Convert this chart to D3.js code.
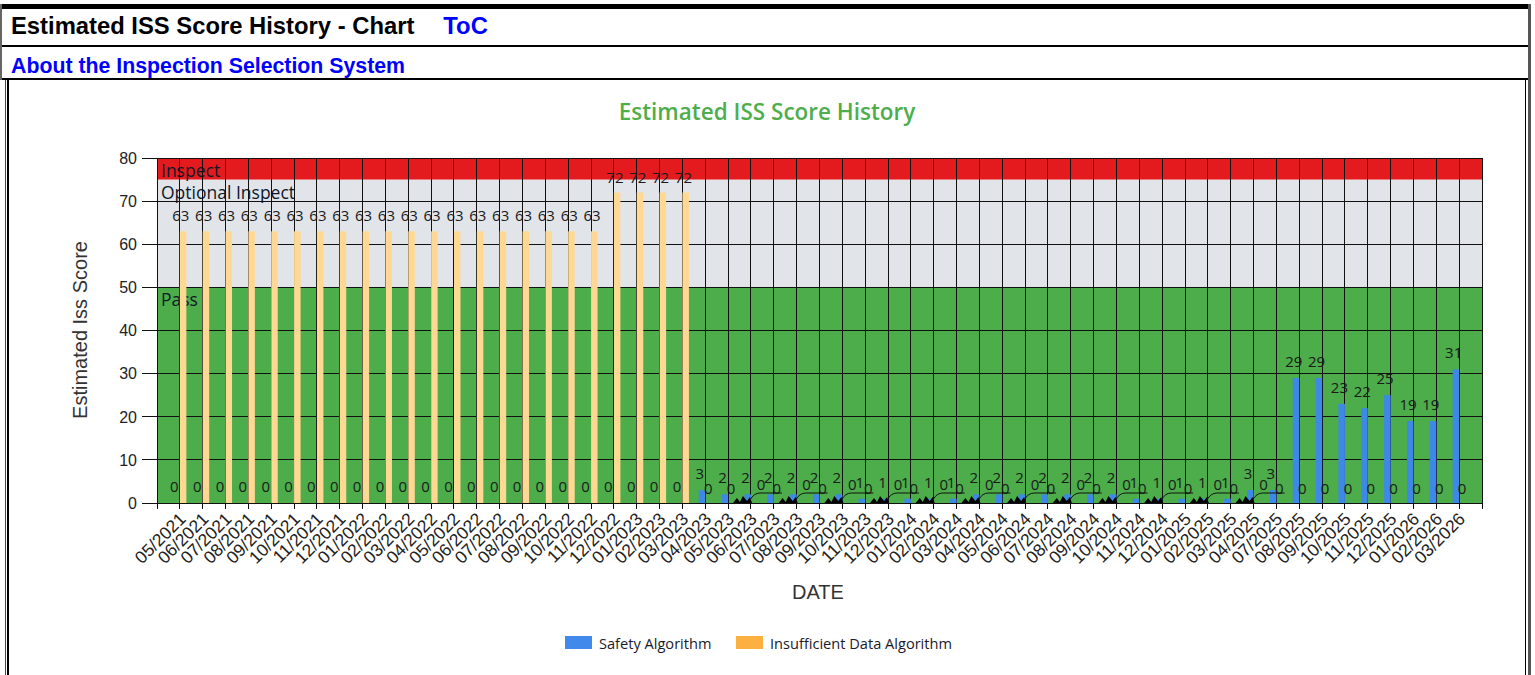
<!DOCTYPE html>
<html>
<head>
<meta charset="utf-8">
<title>Estimated ISS Score History - Chart</title>
<script src="https://cdn.jsdelivr.net/npm/d3@7.9.0/dist/d3.min.js"></script>
<style>
  body { margin: 0; background: #fff; font-family: "Liberation Sans", Arial, sans-serif; }
  .frame { position: absolute; }
  .hdr { position: absolute; font-weight: bold; white-space: nowrap; }
  .hdr a { color: #0000ff; text-decoration: none; }
  #chart { position: absolute; left: 0; top: 0; }
</style>
</head>
<body>
<div class="frame" style="left:0;top:4px;width:1531px;height:5px;background:#000"></div>
<div class="frame" style="left:0;top:4px;width:2px;height:76px;background:#666"></div>
<div class="frame" style="left:1528px;top:4px;width:3px;height:671px;background:#555"></div>
<div class="frame" style="left:2px;top:45px;width:1526px;height:2px;background:#000"></div>
<div class="frame" style="left:2px;top:78px;width:1526px;height:2px;background:#000"></div>
<div class="frame" style="left:5px;top:80px;width:1px;height:595px;background:#444"></div>
<div class="frame" style="left:7px;top:80px;width:2px;height:595px;background:#000"></div>
<div class="frame" style="left:1525px;top:80px;width:1px;height:595px;background:#000"></div>
<div class="hdr" style="left:11px;top:12px;font-size:23.8px;color:#000">Estimated ISS Score History - Chart<a style="margin-left:29px" href="#">ToC</a></div>
<div class="hdr" style="left:11px;top:54px;font-size:21.3px"><a href="#">About the Inspection Selection System</a></div>
<svg id="chart" width="1535" height="675"></svg>
<script>
const months = [
  '05/2021','06/2021','07/2021','08/2021','09/2021','10/2021','11/2021','12/2021',
  '01/2022','02/2022','03/2022','04/2022','05/2022','06/2022','07/2022','08/2022','09/2022','10/2022','11/2022','12/2022',
  '01/2023','02/2023','03/2023','04/2023','05/2023','06/2023','07/2023','08/2023','09/2023','10/2023','11/2023','12/2023',
  '01/2024','02/2024','03/2024','04/2024','05/2024','06/2024','07/2024','08/2024','09/2024','10/2024','11/2024','12/2024',
  '01/2025','02/2025','03/2025','04/2025','07/2025','08/2025','09/2025','10/2025','11/2025','12/2025',
  '01/2026','02/2026','03/2026'
];
const safetyScores = [
  0,0,0,0,0,0,0,0,
  0,0,0,0,0,0,0,0,0,0,0,0,
  0,0,0,3,2,2,2,2,2,2,1,1,
  1,1,1,2,2,2,2,2,2,2,1,1,
  1,1,1,3,3,29,29,23,22,25,
  19,19,31
];
const insufficientScores = [
  63,63,63,63,63,63,63,63,
  63,63,63,63,63,63,63,63,63,63,63,72,
  72,72,72,0,0,0,0,0,0,0,0,0,
  0,0,0,0,0,0,0,0,0,0,0,0,
  0,0,0,0,0,0,0,0,0,0,
  0,0,0
];
const yTicks = [0, 10, 20, 30, 40, 50, 60, 70, 80];
const bandNames = ['Pass', 'Optional Inspect', 'Inspect'];
const bandFrom = [0, 50, 75];
const bandTo = [50, 75, 80];
const seriesNames = ['Safety Algorithm', 'Insufficient Data Algorithm'];

const bandColors = ['#4cad4a', '#e1e4e9', '#e31b1f'];
const safetyColor = '#3d88e8';
const insufficientColor = '#ffd993';
const legendColors = ['#4189ea', '#fbb03f'];

const svg = d3.select('#chart');
const n = months.length;
const x = d3.scaleLinear().domain([0, n + 1]).range([157, 1482]);
const y = d3.scaleLinear().domain([0, 80]).range([503, 158]);
const barW = 6.5;

// background strips
const bands = bandNames.map((name, i) => ({ name, from: bandFrom[i], to: bandTo[i], color: bandColors[i] }));
svg.append('g').selectAll('rect').data(bands).enter().append('rect')
  .attr('x', x(0)).attr('width', x(n + 1) - x(0))
  .attr('y', d => y(d.to)).attr('height', d => y(d.from) - y(d.to))
  .attr('fill', d => d.color);
svg.append('g').selectAll('text').data(bands).enter().append('text')
  .attr('x', x(0) + 4).attr('y', d => y(d.to) + 19)
  .attr('font-family', 'Open Sans, sans-serif').attr('font-size', 17.5)
  .attr('fill', '#101828')
  .text(d => d.name);

// grid
const grid = svg.append('g').attr('stroke', '#111').attr('stroke-width', 1).attr('shape-rendering', 'crispEdges');
grid.selectAll('.h').data(yTicks).enter().append('line')
  .attr('x1', x(0) - 15).attr('x2', x(n + 1))
  .attr('y1', d => y(d)).attr('y2', d => y(d));
grid.selectAll('.v').data(d3.range(0, n + 2)).enter().append('line')
  .attr('x1', d => x(d)).attr('x2', d => x(d))
  .attr('y1', y(80)).attr('y2', y(0) + 6);

// bars
const idx = d3.range(1, n + 1);
svg.append('g').selectAll('rect').data(idx).enter().append('rect')
  .attr('x', i => x(i) - barW).attr('width', barW)
  .attr('y', i => y(safetyScores[i - 1])).attr('height', i => y(0) - y(safetyScores[i - 1]))
  .attr('fill', safetyColor);
svg.append('g').selectAll('rect').data(idx).enter().append('rect')
  .attr('x', i => x(i)).attr('width', barW)
  .attr('y', i => y(insufficientScores[i - 1])).attr('height', i => y(0) - y(insufficientScores[i - 1]))
  .attr('fill', insufficientColor);

// callout marks left by the moved labels
const moved = i => safetyScores[i - 1] > 0 && safetyScores[i - 1] < 5 && i % 2 === 0 && i > 25 && i < 49;
const callouts = svg.append('g');
idx.filter(moved).forEach(i => {
  const b = y(0);
  callouts.append('path')
    .attr('d', `M${x(i) - 18},${b} L${x(i) - 14},${b - 5} L${x(i) - 11},${b - 1} L${x(i) - 8},${b - 7} L${x(i) - 4},${b - 2} L${x(i) - 1},${b - 6} L${x(i) + 1},${b} Z`)
    .attr('fill', '#000');
  callouts.append('path')
    .attr('d', `M${x(i) - 1},${b - 3} Q${x(i) + 3},${b - 10} ${x(i) + 9},${b - 10} L${x(i) + 31},${b - 10}`)
    .attr('fill', 'none').attr('stroke', '#111').attr('stroke-width', 1);
});

// value labels
const lbl = svg.append('g').attr('font-family', 'Open Sans, sans-serif').attr('font-size', 15)
  .attr('fill', '#1a1a1a').attr('text-anchor', 'middle');
lbl.selectAll('.s').data(idx).enter().append('text')
  .attr('x', i => x(i) - 5.5)
  .attr('y', i => y(safetyScores[i - 1]) - 11)
  .text(i => safetyScores[i - 1]);
lbl.selectAll('.o').data(idx).enter().append('text')
  .attr('x', i => insufficientScores[i - 1] > 0 ? x(i) + 1 : x(i) + (moved(i) ? 10 : 3))
  .attr('y', i => insufficientScores[i - 1] > 0 ? y(insufficientScores[i - 1]) - 10 : y(0) - (moved(i) ? 13 : 9))
  .text(i => insufficientScores[i - 1]);

// axes
svg.append('line').attr('x1', x(0)).attr('x2', x(0)).attr('y1', y(80)).attr('y2', y(0))
  .attr('stroke', '#111').attr('shape-rendering', 'crispEdges');
svg.append('g').selectAll('text').data(yTicks).enter().append('text')
  .attr('x', 137).attr('y', d => y(d)).attr('dy', '0.36em')
  .attr('text-anchor', 'end').attr('font-size', 16).attr('fill', '#222')
  .text(d => d);
svg.append('g').selectAll('text').data(idx).enter().append('text')
  .attr('transform', i => `translate(${x(i) + 7},${y(0) + 17}) rotate(-45)`)
  .attr('text-anchor', 'end').attr('font-size', 17.5).attr('fill', '#222')
  .text(i => months[i - 1]);

svg.append('text').attr('transform', 'translate(87,330) rotate(-90)')
  .attr('text-anchor', 'middle').attr('font-size', 20).attr('fill', '#333')
  .text('Estimated Iss Score');
svg.append('text').attr('x', 818).attr('y', 599)
  .attr('text-anchor', 'middle').attr('font-size', 20).attr('fill', '#333')
  .text('DATE');

svg.append('text').attr('x', 767).attr('y', 120)
  .attr('text-anchor', 'middle').attr('font-family', 'Open Sans, sans-serif')
  .attr('font-size', 22.5).attr('font-weight', 600).attr('fill', '#4fae4c')
  .text('Estimated ISS Score History');

// legend
const legendX = [565, 736];
const leg = svg.append('g');
seriesNames.forEach((name, i) => {
  leg.append('rect').attr('x', legendX[i]).attr('y', 636).attr('width', 27).attr('height', 13)
    .attr('fill', legendColors[i]);
  leg.append('text').attr('x', legendX[i] + 34).attr('y', 649)
    .attr('font-family', 'Open Sans, sans-serif').attr('font-size', 14.6).attr('fill', '#1a1a2a')
    .text(name);
});
</script>
</body>
</html>
